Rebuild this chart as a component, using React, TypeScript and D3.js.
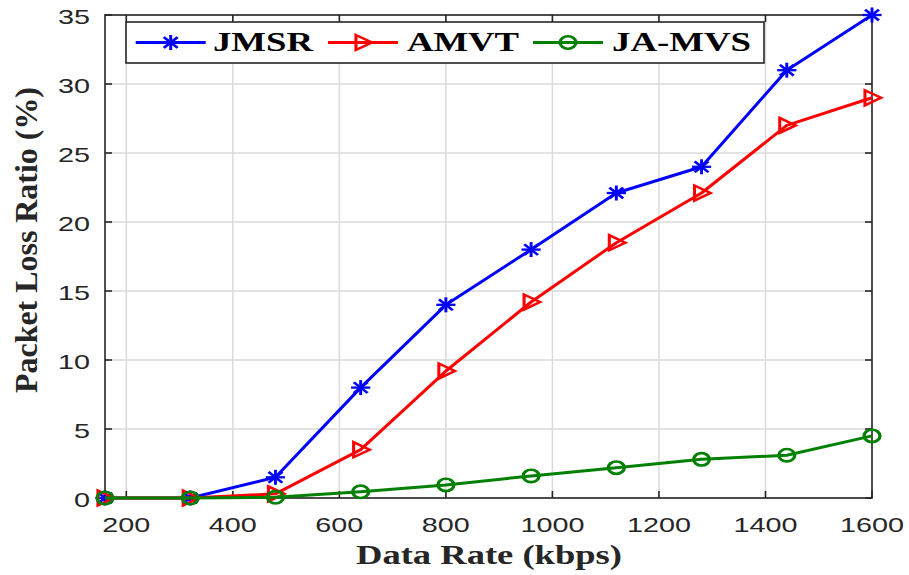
import React from 'react';
import * as d3 from 'd3';

const rates = [160, 320, 480, 640, 800, 960, 1120, 1280, 1440, 1600];
const jmsr = [0, 0, 1.5, 8, 14, 18, 22.1, 24, 31, 35];
const amvt = [0, 0, 0.3, 3.5, 9.2, 14.2, 18.5, 22.1, 27, 29];
const jamvs = [0, 0, 0.05, 0.45, 0.95, 1.6, 2.2, 2.8, 3.1, 4.5];
const seriesNames = ['JMSR', 'AMVT', 'JA-MVS'];
const seriesColors = ['#0000ff', '#ff0000', '#008000'];
const xTicks = [200, 400, 600, 800, 1000, 1200, 1400, 1600];
const yTicks = [0, 5, 10, 15, 20, 25, 30, 35];

const W = 909;
const H = 575;
const box = { left: 105, right: 872, top: 15, bottom: 498 };
const SX = 1.28; // horizontal stretch of the original figure
const axisColor = '#262626';

function Marker({ kind, color }: { kind: number; color: string }) {
    // drawn in a unit frame, stretched like the original
    if (kind === 0) {
        const r = 7.5, d = r * 0.72;
        return (
            <g transform={`scale(${SX},1)`} stroke={color} strokeWidth={2.3} fill="none">
                <line x1={-r} y1={0} x2={r} y2={0} />
                <line x1={0} y1={-r} x2={0} y2={r} />
                <line x1={-d} y1={-d} x2={d} y2={d} />
                <line x1={-d} y1={d} x2={d} y2={-d} />
            </g>
        );
    }
    if (kind === 1) {
        return (
            <g transform={`scale(${SX},1)`}>
                <path d="M-5.5,-7.5L-5.5,7.5L7,0Z" fill="none" stroke={color} strokeWidth={2.4} strokeLinejoin="miter" />
            </g>
        );
    }
    return (
        <g transform={`scale(${SX},1)`}>
            <circle r={6.2} fill="none" stroke={color} strokeWidth={2.6} />
        </g>
    );
}

export default function App() {
    const x = d3.scaleLinear().domain([160, 1600]).range([box.left, box.right]);
    const y = d3.scaleLinear().domain([0, 35]).range([box.bottom, box.top]);
    const seriesData = [jmsr, amvt, jamvs];
    const line = d3.line<number>()
        .x((_, i) => x(rates[i]))
        .y(d => y(d));

    const tick = 7;
    const legend = { x0: 126, x1: 764, y0: 22, y1: 63, cy: 42.5 };
    const legendSamples = [135.7, 328, 533];
    const legendText = [213, 407, 612];
    const legendWidths = [100, 112, 139];

    return (
        <svg width={W} height={H} style={{ position: 'absolute', left: 0, top: 0, background: '#fff' }}>
            {/* grid */}
            <g stroke="#dadada" strokeWidth={1.5}>
                {xTicks.map(t => (
                    <line key={'gx' + t} x1={x(t)} x2={x(t)} y1={box.top} y2={box.bottom} />
                ))}
                {yTicks.map(t => (
                    <line key={'gy' + t} x1={box.left} x2={box.right} y1={y(t)} y2={y(t)} />
                ))}
            </g>

            {/* box + ticks */}
            <g stroke={axisColor} strokeWidth={1.6} fill="none">
                <rect x={box.left} y={box.top} width={box.right - box.left} height={box.bottom - box.top} />
                {xTicks.map(t => (
                    <g key={'tx' + t}>
                        <line x1={x(t)} x2={x(t)} y1={box.bottom} y2={box.bottom - tick} />
                        <line x1={x(t)} x2={x(t)} y1={box.top} y2={box.top + tick} />
                    </g>
                ))}
                {yTicks.map(t => (
                    <g key={'ty' + t}>
                        <line x1={box.left} x2={box.left + tick} y1={y(t)} y2={y(t)} />
                        <line x1={box.right} x2={box.right - tick} y1={y(t)} y2={y(t)} />
                    </g>
                ))}
            </g>

            {/* series */}
            {seriesData.map((vals, s) => (
                <g key={seriesNames[s]}>
                    <path d={line(vals) || ''} fill="none" stroke={seriesColors[s]} strokeWidth={3} strokeLinejoin="round" />
                    {vals.map((v, i) => (
                        <g key={i} transform={`translate(${x(rates[i])},${y(v)})`}>
                            <Marker kind={s} color={seriesColors[s]} />
                        </g>
                    ))}
                </g>
            ))}

            {/* tick labels */}
            <g fontFamily="'Liberation Sans', Arial, sans-serif" fontSize={21} fill={axisColor}>
                {xTicks.map(t => (
                    <text key={'lx' + t} x={x(t)} y={532} textAnchor="middle"
                        textLength={String(t).length * 16} lengthAdjust="spacingAndGlyphs">{t}</text>
                ))}
                {yTicks.map(t => (
                    <text key={'ly' + t} x={90} y={y(t) + 8.5} textAnchor="end"
                        textLength={String(t).length * 16} lengthAdjust="spacingAndGlyphs">{t}</text>
                ))}
            </g>

            {/* axis titles */}
            <text x={489} y={564} textAnchor="middle" fontFamily="'Liberation Serif', 'Times New Roman', serif"
                fontWeight="bold" fontSize={28} fill={axisColor} textLength={266} lengthAdjust="spacingAndGlyphs">
                Data Rate (kbps)
            </text>
            <text transform={`translate(37,240) rotate(-90)`} textAnchor="middle"
                fontFamily="'Liberation Serif', 'Times New Roman', serif" fontWeight="bold" fontSize={31}
                fill={axisColor} textLength={306} lengthAdjust="spacingAndGlyphs">
                Packet Loss Ratio (%)
            </text>

            {/* legend */}
            <g>
                <rect x={legend.x0} y={legend.y0} width={legend.x1 - legend.x0} height={legend.y1 - legend.y0}
                    fill="#fff" stroke={axisColor} strokeWidth={1.6} />
                {seriesNames.map((name, s) => (
                    <g key={'lg' + name}>
                        <line x1={legendSamples[s]} x2={legendSamples[s] + 70} y1={legend.cy} y2={legend.cy}
                            stroke={seriesColors[s]} strokeWidth={3} />
                        <g transform={`translate(${legendSamples[s] + 35},${legend.cy})`}>
                            <Marker kind={s} color={seriesColors[s]} />
                        </g>
                        <text x={legendText[s]} y={51} fontFamily="'Liberation Serif', 'Times New Roman', serif"
                            fontWeight="bold" fontSize={28} fill="#000" textLength={legendWidths[s]}
                            lengthAdjust="spacingAndGlyphs">{name}</text>
                    </g>
                ))}
            </g>
        </svg>
    );
}
